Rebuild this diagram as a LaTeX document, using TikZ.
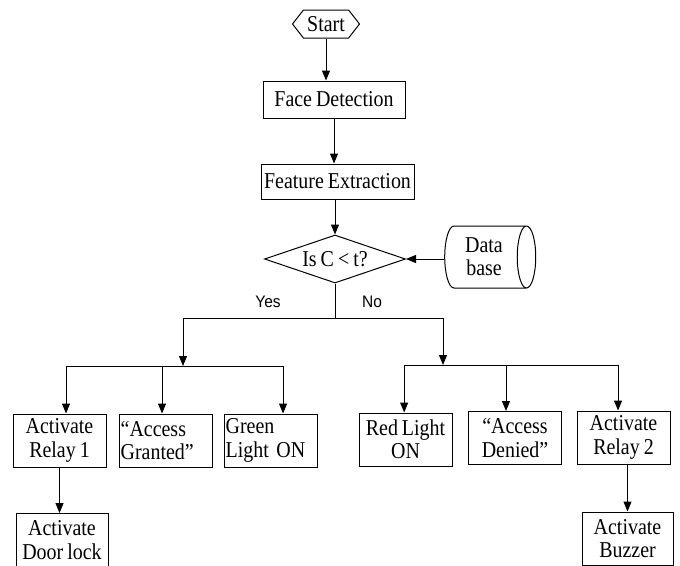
\documentclass[tikz,border=0pt]{standalone}
\usepackage{fontspec}
\setmainfont{Liberation Serif}[FakeStretch=0.88, WordSpace=0.8]
\newfontfamily\yesnofont{Liberation Sans}[FakeStretch=0.93]
\usetikzlibrary{shapes.geometric,shapes.symbols,arrows.meta}

\tikzset{every picture/.style={line width=0.75pt}}
\tikzset{
	boxfont/.style={font=\fontsize{17}{17.5}\selectfont},
	proc/.style={draw, rectangle, inner sep=1pt, minimum width=69.75pt, minimum height=39.75pt, align=center, boxfont},
	procleft/.style={proc, text width=67.25pt, align=left},
	term/.style={draw, signal, signal to=west and east, signal pointer angle=104, minimum width=50.25pt, minimum height=21pt, inner sep=1pt, boxfont},
	decis/.style={draw, diamond, aspect=2.9, inner sep=0pt, minimum width=105.75pt, minimum height=36pt, boxfont},
	store/.style={draw, cylinder, shape aspect=0.45, minimum width=46.5pt, minimum height=68.25pt, inner sep=1pt, align=center, boxfont},
	answer/.style={font=\yesnofont\fontsize{12.5}{14}\selectfont},
	arr/.style={-{Triangle[length=7.5pt,width=6pt]}}
}

\begin{document}
\begin{tikzpicture}[x=0.75pt,y=0.75pt,yscale=-1,xscale=1]
		\useasboundingbox (0,0) rectangle (680,565);

		% Text Node
		\node[term] (start) at (326,24) {Start};
		% Text Node
		\node[proc, minimum width=106.5pt, minimum height=27.75pt] (face) at (334,99.5) {Face Detection};
		% Text Node
		\node[proc, minimum width=114.75pt, minimum height=26.25pt] (feat) at (337.5,181.5) {Feature Extraction};
		% Shape: Diamond
		\node[decis] (cond) at (335,259) {Is C \textless{} t?};
		% Shape: Can
		\node[store] (db) at (484,257) {Data\\base};
		% Text Node
		\node[answer] (yeslbl) at (268,302) {Yes};
		% Text Node
		\node[answer] (nolbl) at (372,302) {No};

		% Text Node
		\node[proc] (relayA) at (59.5,440.5) {Activate\\Relay 1};
		% Text Node
		\node[procleft] (granted) at (165.5,440.5) {``Access\\Granted''};
		% Text Node
		\node[procleft] (green) at (270.5,440.5) {Green\\Light ON};
		% Text Node
		\node[proc, minimum width=69pt] (door) at (62,540) {Activate\\Door lock};
		% Text Node
		\node[proc] (red) at (405.5,439.5) {Red Light\\ON};
		% Text Node
		\node[proc] (denied) at (515,438) {``Access\\Denied''};
		% Text Node
		\node[proc] (relayB) at (623.5,437.5) {Activate\\Relay 2};
		% Text Node
		\node[proc, minimum width=68.25pt] (buzzer) at (627.5,538.5) {Activate\\Buzzer};

		% branch points
		\coordinate (split) at (336,318);
		\coordinate (yesjoin) at (183,366);
		\coordinate (nojoin) at (443,365);
		\coordinate (toA) at ([xshift=4.9pt]relayA.north);
		\coordinate (toG) at ([xshift=-2.6pt]granted.north);
		\coordinate (toL) at ([xshift=9.4pt]green.north);
		\coordinate (toR) at ([xshift=-1pt]red.north);
		\coordinate (toD) at ([xshift=-6.75pt]denied.north);
		\coordinate (toB) at ([xshift=-4.1pt]relayB.north);

		%Straight Lines
		\draw[arr] (start.south) -- (start.south |- face.north);
		\draw[arr] (face.south) -- (face.south |- feat.north);
		\draw[arr] (feat.south -| cond.north) -- (cond.north);
		\draw[arr] (cond.east -| db.west) -- (cond.east);
		%Straight Lines
		\draw (cond.south) -- (cond.south |- split);
		\draw (yesjoin |- split) -- (nojoin |- split);
		\draw[arr] (yesjoin |- split) -- (yesjoin);
		\draw[arr] (nojoin |- split) -- (nojoin);
		%Straight Lines
		\draw (toA |- yesjoin) -- (toL |- yesjoin);
		\draw[arr] (toA |- yesjoin) -- (toA);
		\draw[arr] (toG |- yesjoin) -- (toG);
		\draw[arr] (toL |- yesjoin) -- (toL);
		\draw[arr] (relayA.south) -- (relayA.south |- door.north);
		%Straight Lines
		\draw (toR |- nojoin) -- (toB |- nojoin);
		\draw[arr] (toR |- nojoin) -- (toR);
		\draw[arr] (toD |- nojoin) -- (toD);
		\draw[arr] (toB |- nojoin) -- (toB);
		\draw[arr] (buzzer.north |- relayB.south) -- (buzzer.north);

		\end{tikzpicture}
\end{document}
